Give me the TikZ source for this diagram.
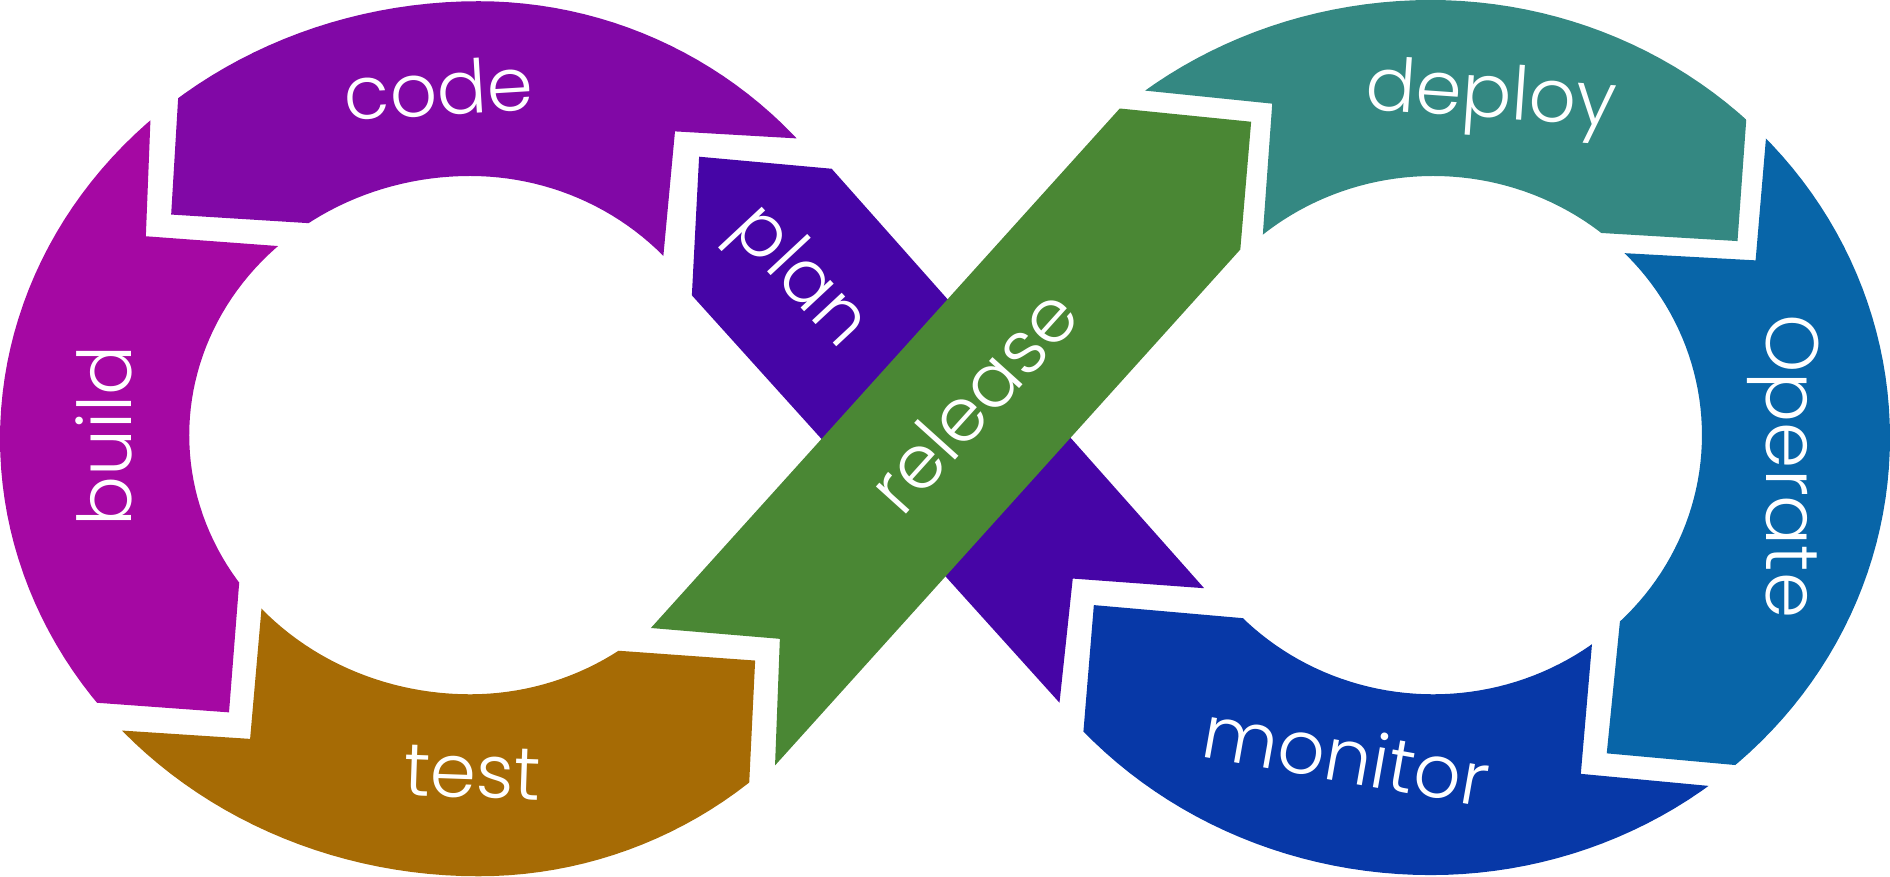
\documentclass[tikz,border=0pt]{standalone}
\usepackage{fontspec}
\setmainfont{Poppins}[UprightFont={* Light}]
\usetikzlibrary{positioning}

\definecolor{codecol}{HTML}{8108A6}
\definecolor{buildcol}{HTML}{A508A3}
\definecolor{testcol}{HTML}{A66B05}
\definecolor{plancol}{HTML}{4605A6}
\definecolor{releasecol}{HTML}{4A8734}
\definecolor{deploycol}{HTML}{348882}
\definecolor{operatecol}{HTML}{0865A8}
\definecolor{monitorcol}{HTML}{0738A7}

% outer and inner edge of each loop of the band
\newcommand{\leftring}{plot[domain=0:360, samples=181, variable=\t]
    ({397+ifthenelse(cos(\t)>0,363,397)*cos(\t)}, {364+363*sin(\t)}) -- cycle
  plot[domain=0:360, samples=181, variable=\t]
    ({390+ifthenelse(cos(\t)>0,222,233)*cos(\t)}, {361+215*sin(\t)}) -- cycle}
\newcommand{\rightring}{plot[domain=0:360, samples=181, variable=\t]
    ({1187+ifthenelse(cos(\t)>0,381,389)*cos(\t)}, {363+363*sin(\t)}) -- cycle
  plot[domain=0:360, samples=181, variable=\t]
    ({1189+223*cos(\t)}, {361+215*sin(\t)}) -- cycle}

\begin{document}
\begin{tikzpicture}[
      x=0.01cm, y=-0.01cm,
      ring/.style={even odd rule},
      phase/.style={
        text=white,
        inner sep=0pt,
        font=\fontsize{17.5}{20}\selectfont
      }
    ]
    \useasboundingbox (0,0) rectangle (1568,727);

    % Left loop
    \begin{scope}
      \clip (153,-20) -- (148,78) -- (142,178) -- (254,185) -- (290,187) -- (546,260)
        -- (550,216) -- (560,109) -- (664,115) -- (720,118) -- (720,-20) -- cycle;
      \fill[codecol, ring] \leftring;
    \end{scope}
    \begin{scope}
      \clip (127,40) -- (125,95) -- (121,196) -- (229,204) -- (270,207) -- (201,455)
        -- (198,489) -- (190,591) -- (80,583) -- (-30,576) -- (-30,40) -- cycle;
      \fill[buildcol, ring] \leftring;
    \end{scope}
    \begin{scope}
      \clip (219,480) -- (216.5,510) -- (207.5,613) -- (100,606) -- (20,601) -- (20,780)
        -- (617,780) -- (619,700) -- (621.5,651) -- (626.5,548) -- (515,540) -- (480,537.5) -- cycle;
      \fill[testcol, ring] \leftring;
    \end{scope}

    % Right loop
    \begin{scope}
      \clip (880,68) -- (1055.5,86) -- (1048,190) -- (1046,230) -- (1290,191) -- (1441.5,200)
        -- (1449,96) -- (1453,40) -- (1453,-20) -- (880,-20) -- cycle;
      \fill[deploycol, ring] \rightring;
    \end{scope}
    \begin{scope}
      \clip (1320,208.5) -- (1456.5,216) -- (1465,116) -- (1470,56) -- (1620,56) -- (1620,651)
        -- (1443,635) -- (1333,625) -- (1345,505) -- cycle;
      \fill[operatecol, ring] \rightring;
    \end{scope}
    \begin{scope}
      \clip (1050,514.5) -- (907.5,502) -- (899,605) -- (893,680) -- (893,780) -- (1480,780)
        -- (1480,658) -- (1417.5,652) -- (1311.5,642) -- (1322,520) -- cycle;
      \fill[monitorcol, ring] \rightring;
    \end{scope}

    % Crossing strips
    \fill[plancol] (580,130) -- (690,140) -- (999,488) -- (890,480) -- (879,583) -- (574,245) -- cycle;
    \fill[releasecol] (929,90) -- (1038,101) -- (1029,207) -- (643,635) -- (647,530) -- (540,521) -- cycle;

    % Labels
    \node[phase, rotate=3.5] (code) at (364,73) {code};
    \node[phase, rotate=90] (build) at (86,362) {build};
    \node[phase, rotate=-2] (test) at (392,641) {test};
    \node[phase, rotate=-47] (plan) at (662,231) {plan};
    \node[phase, rotate=48] (release) at (807,332) {release};
    \node[phase, rotate=-4] (deploy) at (1237,83) {deploy};
    \node[phase, rotate=-90] (operate) at (1479,387) {Operate};
    \node[phase, rotate=-10] (monitor) at (1117,626) {monitor};
  \end{tikzpicture}
\end{document}
